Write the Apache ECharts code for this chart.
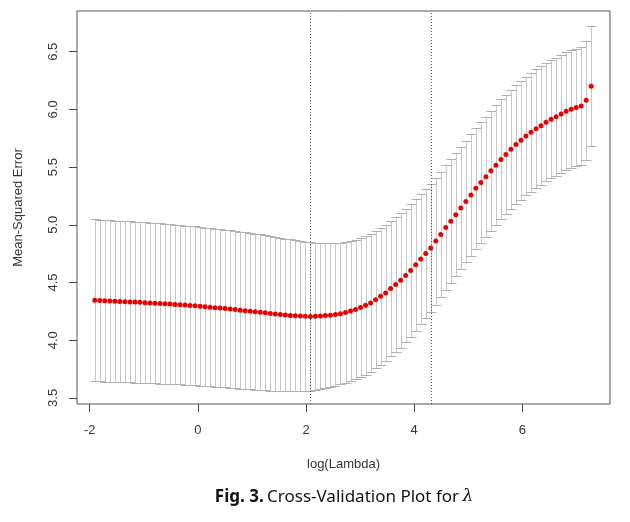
<!DOCTYPE html>
<html>
<head>
<meta charset="utf-8">
<script src="https://cdn.jsdelivr.net/npm/echarts@6/dist/echarts.min.js"></script>
<style>
html,body{margin:0;padding:0;background:#fff;}
#chart{width:630px;height:522px;}
</style>
</head>
<body>
<div id="chart"></div>
<script>
// log(lambda) sequence (x positions of the points)
const logLambda = [
-1.905,-1.812,-1.720,-1.627,-1.534,-1.442,-1.349,-1.256,-1.163,-1.071,
-0.978,-0.885,-0.793,-0.700,-0.607,-0.515,-0.422,-0.329,-0.236,-0.144,
-0.051,0.042,0.134,0.227,0.320,0.413,0.505,0.598,0.691,0.783,
0.876,0.969,1.061,1.154,1.247,1.340,1.432,1.525,1.618,1.710,
1.803,1.896,1.988,2.081,2.174,2.267,2.359,2.452,2.545,2.637,
2.730,2.823,2.915,3.008,3.101,3.194,3.286,3.379,3.472,3.564,
3.657,3.750,3.842,3.935,4.028,4.121,4.213,4.306,4.399,4.491,
4.584,4.677,4.769,4.862,4.955,5.048,5.140,5.233,5.326,5.418,
5.511,5.604,5.696,5.789,5.882,5.975,6.067,6.160,6.253,6.345,
6.438,6.531,6.623,6.716,6.809,6.902,6.994,7.087,7.180,7.272
];
// cross-validated mean squared error
const cvMean = [
4.346,4.343,4.341,4.339,4.338,4.336,4.334,4.332,4.330,4.328,
4.325,4.323,4.321,4.318,4.316,4.313,4.310,4.307,4.304,4.301,
4.298,4.294,4.290,4.286,4.282,4.278,4.274,4.270,4.265,4.260,
4.256,4.251,4.246,4.242,4.237,4.232,4.228,4.223,4.219,4.215,
4.212,4.209,4.207,4.206,4.207,4.210,4.214,4.217,4.222,4.230,
4.240,4.252,4.266,4.283,4.302,4.323,4.350,4.380,4.410,4.447,
4.483,4.519,4.561,4.605,4.654,4.703,4.752,4.800,4.859,4.917,
4.976,5.030,5.088,5.146,5.202,5.259,5.317,5.367,5.416,5.468,
5.517,5.567,5.610,5.654,5.697,5.732,5.770,5.802,5.833,5.859,
5.889,5.915,5.937,5.961,5.984,6.002,6.016,6.030,6.080,6.200
];
// standard error of the CV estimate (half length of the error bars)
const cvSd = [
0.700,0.700,0.700,0.700,0.699,0.699,0.699,0.698,0.698,0.697,
0.697,0.696,0.695,0.694,0.694,0.693,0.692,0.691,0.690,0.689,
0.688,0.687,0.686,0.685,0.684,0.683,0.682,0.681,0.680,0.679,
0.678,0.677,0.675,0.674,0.672,0.670,0.668,0.665,0.662,0.659,
0.656,0.652,0.648,0.645,0.638,0.632,0.626,0.622,0.618,0.614,
0.610,0.608,0.605,0.603,0.600,0.598,0.595,0.593,0.590,0.588,
0.585,0.583,0.580,0.575,0.570,0.565,0.560,0.555,0.550,0.545,
0.540,0.537,0.534,0.531,0.528,0.525,0.524,0.523,0.522,0.521,
0.520,0.519,0.518,0.517,0.517,0.516,0.515,0.515,0.514,0.514,
0.513,0.513,0.512,0.512,0.511,0.510,0.510,0.511,0.515,0.520
];
// log(lambda.min) and log(lambda.1se)
const refLines = [2.08, 4.31];
const xTicks = [-2, 0, 2, 4, 6];
const yTicks = [3.5, 4.0, 4.5, 5.0, 5.5, 6.0, 6.5];

const barData = logLambda.map((x, i) => [x, cvMean[i] - cvSd[i], cvMean[i] + cvSd[i]]);
const pointData = logLambda.map((x, i) => [x, cvMean[i]]);

const FONT = '"Liberation Sans", Arial, sans-serif';
const chart = echarts.init(document.getElementById('chart'), null, {renderer: 'canvas'});
chart.setOption({
  animation: false,
  backgroundColor: '#fff',
  grid: {left: 77, right: 20, top: 11, bottom: 118, show: true, borderColor: '#555', borderWidth: 1, backgroundColor: 'transparent'},
  xAxis: {
    type: 'value', min: -2.234, max: 7.620,
    name: 'log(Lambda)', nameLocation: 'middle', nameGap: 54,
    nameTextStyle: {color: '#333', fontSize: 13, fontFamily: FONT},
    axisLine: {show: false, onZero: false},
    splitLine: {show: false},
    axisTick: {show: true, inside: false, length: 8, lineStyle: {color: '#444'}, customValues: xTicks},
    axisLabel: {customValues: xTicks, margin: 20, color: '#333', fontSize: 13, fontFamily: FONT}
  },
  yAxis: {
    type: 'value', min: 3.447, max: 6.853,
    name: 'Mean-Squared Error', nameLocation: 'middle', nameGap: 52,
    nameTextStyle: {color: '#333', fontSize: 13, fontFamily: FONT},
    axisLine: {show: false, onZero: false},
    splitLine: {show: false},
    axisTick: {show: true, inside: false, length: 8, lineStyle: {color: '#444'}, customValues: yTicks},
    axisLabel: {customValues: yTicks, rotate: 90, margin: 17, color: '#333', fontSize: 13, fontFamily: FONT,
      formatter: v => Number(v).toFixed(1)}
  },
  series: [
    {
      type: 'custom',
      data: barData,
      encode: {x: 0, y: [1, 2]},
      silent: true,
      z: 1,
      renderItem: function (params, api) {
        const x = api.value(0), lo = api.value(1), hi = api.value(2);
        const pLo = api.coord([x, lo]);
        const pHi = api.coord([x, hi]);
        const px = Math.round(pLo[0]) + 0.5;
        const yl = Math.round(pLo[1]) + 0.5, yh = Math.round(pHi[1]) + 0.5;
        const cap = 5;
        return {
          type: 'group',
          children: [
            {type: 'line', shape: {x1: px, y1: yl, x2: px, y2: yh}, style: {stroke: '#c6c6c6', lineWidth: 1}},
            {type: 'line', shape: {x1: px - cap, y1: yh, x2: px + cap, y2: yh}, style: {stroke: '#b0b0b0', lineWidth: 1}},
            {type: 'line', shape: {x1: px - cap, y1: yl, x2: px + cap, y2: yl}, style: {stroke: '#b0b0b0', lineWidth: 1}}
          ]
        };
      }
    },
    {
      type: 'scatter',
      data: pointData,
      symbol: 'circle',
      symbolSize: 5,
      itemStyle: {color: '#e60000', opacity: 1},
      silent: true,
      z: 3,
      markLine: {
        silent: true,
        symbol: ['none', 'none'],
        label: {show: false},
        lineStyle: {color: '#555', type: [1, 2], width: 1, opacity: 1},
        data: refLines.map(v => ({xAxis: v}))
      }
    }
  ],
  graphic: [
    {
      type: 'text',
      x: 344, y: 497,
      style: {
        text: '{b|Fig. 3.} {r|Cross-Validation Plot for} {l|λ}',
        align: 'center', verticalAlign: 'middle',
        rich: {
          b: {fontFamily: '"Noto Sans", sans-serif', fontWeight: 'bold', fontSize: 17, fill: '#111'},
          r: {fontFamily: '"Noto Sans", sans-serif', fontSize: 17, fill: '#111'},
          l: {fontFamily: '"DejaVu Serif", serif', fontStyle: 'italic', fontSize: 17, fill: '#111'}
        }
      }
    }
  ]
});
</script>
</body>
</html>
